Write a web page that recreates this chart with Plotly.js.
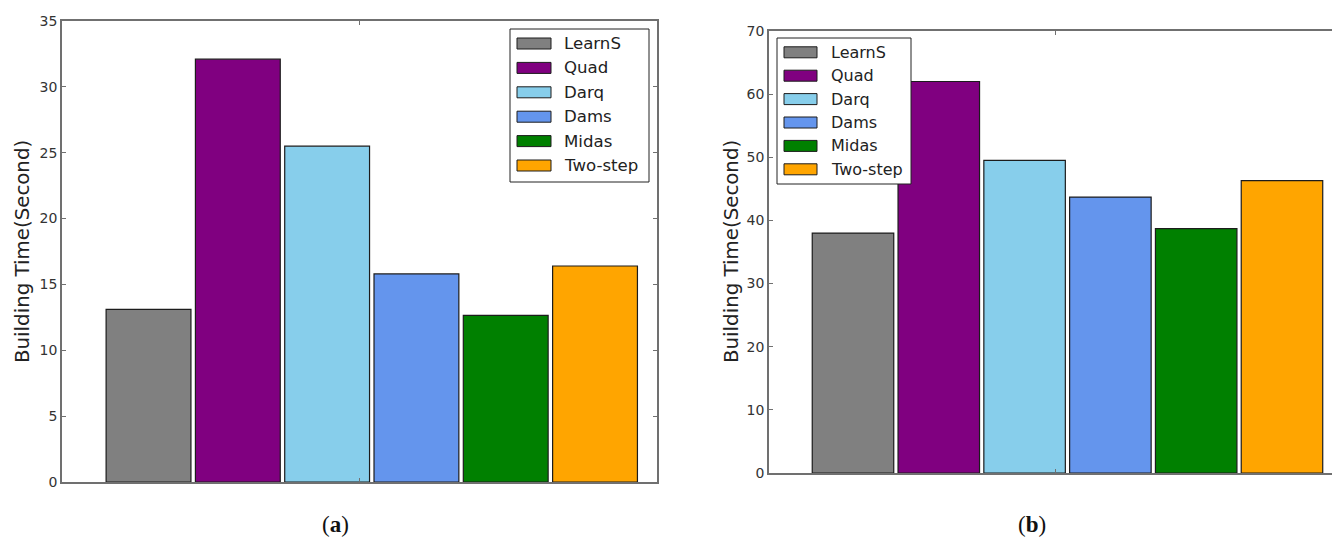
<!DOCTYPE html>
<html>
<head>
<meta charset="utf-8">
<script src="https://cdn.plot.ly/plotly-3.0.1.min.js"></script>
<style>
  html, body { margin: 0; padding: 0; background: #ffffff; }
  #chart { width: 1332px; height: 541px; }
</style>
</head>
<body>
<div id="chart"></div>
<script>
// Index building time of each method on two datasets
const methods = ['LearnS', 'Quad', 'Darq', 'Dams', 'Midas', 'Two-step'];
const methodColors = ['#808080', '#800080', '#87ceeb', '#6495ed', '#008000', '#ffa500'];
const buildTimeA = [13.1, 32.1, 25.5, 15.8, 12.65, 16.4];
const buildTimeB = [38.0, 62.0, 49.5, 43.7, 38.7, 46.3];
const yTicksA = [0, 5, 10, 15, 20, 25, 30, 35];
const yTicksB = [0, 10, 20, 30, 40, 50, 60, 70];
const panelLetters = ['a', 'b'];
const yTitleText = 'Building Time(Second)';

const W = 1332, H = 541;
const px = v => v / W;          // pixel x -> paper x
const py = v => 1 - v / H;      // pixel y -> paper y

const axisGray = '#707070';
const textFont = 'DejaVu Sans, Verdana, sans-serif';

// one bar trace per method so each keeps its own colour
const traces = [];
[[buildTimeA, 'x', 'y'], [buildTimeB, 'x2', 'y2']].forEach(([vals, xa, ya]) => {
  methods.forEach((m, i) => {
    traces.push({
      type: 'bar',
      x: [i],
      y: [vals[i]],
      width: 0.95,
      name: m,
      xaxis: xa,
      yaxis: ya,
      showlegend: false,
      marker: { color: methodColors[i], line: { color: '#1c1c1c', width: 1.2 } },
      hovertemplate: m + ': %{y}<extra></extra>'
    });
  });
});

const xCommon = {
  showline: true, linecolor: axisGray, linewidth: 1.6,
  ticks: 'inside', ticklen: 4, tickcolor: axisGray, tickwidth: 1,
  tickvals: [2.36], ticktext: [''],
  showgrid: false, zeroline: false, fixedrange: true
};
const yCommon = {
  showline: true, linecolor: axisGray, linewidth: 1.6,
  ticks: 'inside', ticklen: 4, tickcolor: axisGray, tickwidth: 1,
  tickfont: { family: textFont, size: 14, color: '#333333' },
  showgrid: false, zeroline: false, fixedrange: true
};

const layout = {
  width: W, height: H,
  margin: { l: 0, r: 0, t: 0, b: 0 },
  paper_bgcolor: '#ffffff', plot_bgcolor: '#ffffff',
  barmode: 'overlay',
  showlegend: false,
  xaxis: Object.assign({}, xCommon, { domain: [px(62), px(657)], range: [-0.969, 5.694], anchor: 'y', mirror: 'ticks' }),
  yaxis: Object.assign({}, yCommon, { domain: [py(482), py(21)], range: [0, 35], tickvals: yTicksA, anchor: 'x', mirror: 'ticks' }),
  xaxis2: Object.assign({}, xCommon, { domain: [px(769), 1], range: [-0.979, 5.583], anchor: 'y2', mirror: 'ticks' }),
  yaxis2: Object.assign({}, yCommon, { domain: [py(473), py(31)], range: [0, 70], tickvals: yTicksB, anchor: 'x2', mirror: false }),
  shapes: [],
  annotations: []
};

// legend box with wide swatches, one row per method
function addLegend(box, swatchX0, swatchX1, textX, rowY0, rowStep, fontSize) {
  layout.shapes.push({
    type: 'rect', xref: 'paper', yref: 'paper',
    x0: px(box[0]), x1: px(box[1]), y0: py(box[2]), y1: py(box[3]),
    line: { color: '#222222', width: 1 }, fillcolor: '#ffffff', layer: 'above'
  });
  methods.forEach((m, i) => {
    const cy = rowY0 + i * rowStep;
    layout.shapes.push({
      type: 'rect', xref: 'paper', yref: 'paper',
      x0: px(swatchX0), x1: px(swatchX1), y0: py(cy - 5.5), y1: py(cy + 5.5),
      line: { color: '#1c1c1c', width: 1 }, fillcolor: methodColors[i], layer: 'above'
    });
    layout.annotations.push({
      xref: 'paper', yref: 'paper', x: px(textX), y: py(cy),
      xanchor: 'left', yanchor: 'middle', showarrow: false, text: m,
      font: { family: textFont, size: fontSize, color: '#222222' }
    });
  });
}
addLegend([510, 649, 29, 182], 517, 551, 562, 43.5, 24.4, 16.6);
addLegend([777, 911, 38, 184], 784, 817, 829, 52.3, 23.4, 16);

// vertical axis titles
[[22, 252], [731, 252]].forEach(([x, y]) => {
  layout.annotations.push({
    xref: 'paper', yref: 'paper', x: px(x), y: py(y),
    xanchor: 'center', yanchor: 'middle', showarrow: false,
    textangle: -90, text: yTitleText,
    font: { family: textFont, size: 19.8, color: '#222222' }
  });
});

// panel captions
[[335, 524], [1032, 524]].forEach(([x, y], k) => {
  layout.annotations.push({
    xref: 'paper', yref: 'paper', x: px(x), y: py(y),
    xanchor: 'center', yanchor: 'middle', showarrow: false,
    text: '(<b>' + panelLetters[k] + '</b>)',
    font: { family: 'Liberation Serif, DejaVu Serif, serif', size: 23, color: '#111111' }
  });
});

Plotly.newPlot('chart', traces, layout, { displayModeBar: false, responsive: false });
</script>
</body>
</html>
